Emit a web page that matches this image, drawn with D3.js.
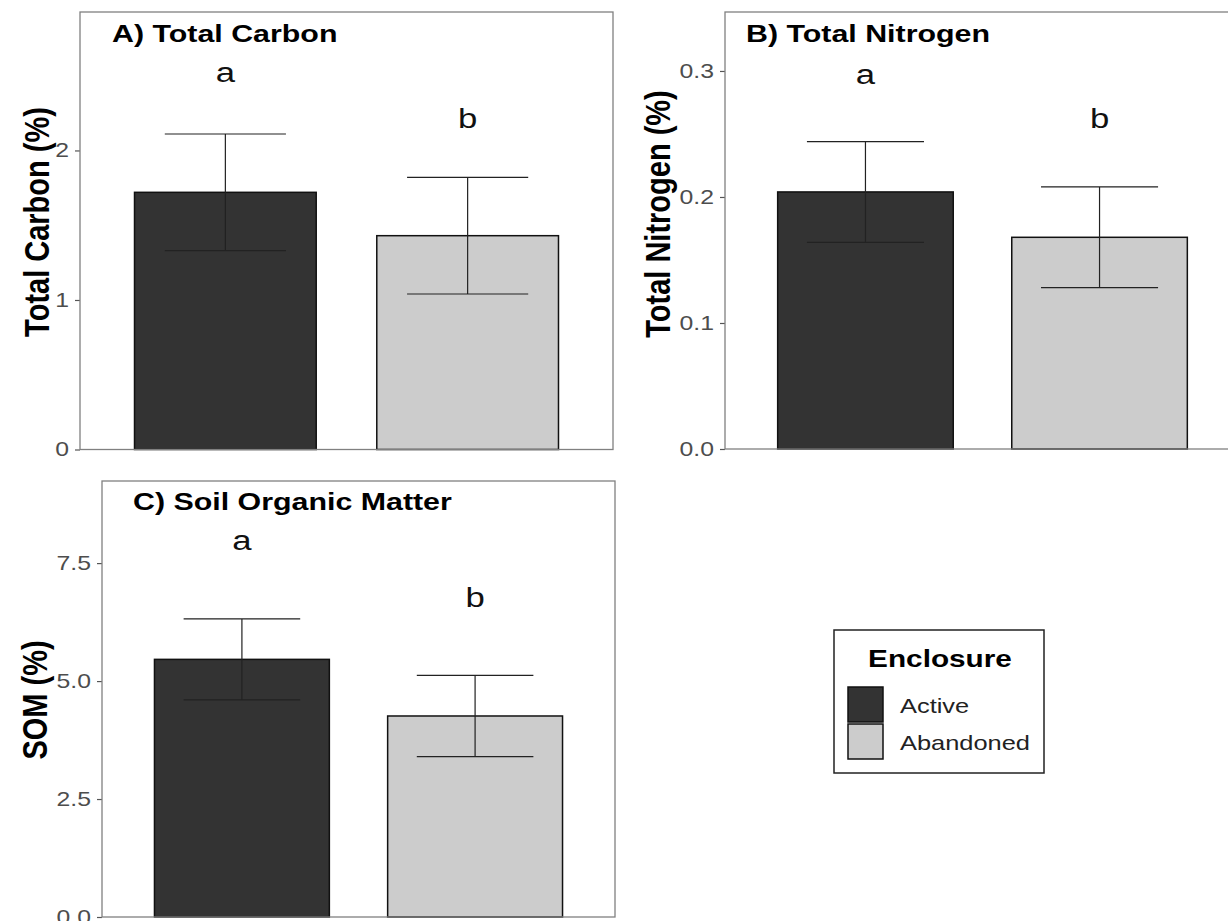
<!DOCTYPE html>
<html lang="en">
  <head>
    <meta charset="UTF-8">
    <title>Soil carbon, nitrogen and SOM by enclosure</title>
    <style>
    * {
      box-sizing: border-box;
      margin: 0;
      padding: 0;
    }

    body {
      background: #fff;
      font-family: "Liberation Sans", Arial, sans-serif;
    }

    svg {
      display: block;
    }

    .frame {
      fill: none;
      stroke: #808080;
      stroke-width: 1.3px;
    }

    .tick line {
      stroke: #555;
      stroke-width: 1.2px;
    }

    .tick text {
      fill: #4d4d4d;
      font-size: 20px;
    }

    .bar {
      stroke: #111;
      stroke-width: 1.5px;
    }

    .err {
      stroke: #222;
      stroke-width: 1.2px;
      fill: none;
    }

    .letter {
      font-size: 28px;
      fill: #111;
      text-anchor: middle;
    }

    .ptitle {
      font-weight: bold;
      font-size: 24.5px;
      fill: #000;
    }

    .ytitle {
      font-weight: bold;
      font-size: 29px;
      fill: #000;
    }
    </style>
  </head>
  <body>
    <svg width="1228" height="921"></svg>
    <script src="https://d3js.org/d3.v7.min.js"></script>
    <script>
      const groups = ["Active", "Abandoned"];
      const fills = ["#333333", "#cccccc"];
      const letters = ["a", "b"];

      const carbonMean = [1.72, 1.43];
      const carbonSE = [0.39, 0.39];
      const carbonLetterY = [2.46, 2.15];
      const carbonTicks = [0, 1, 2];

      const nitrogenMean = [0.204, 0.168];
      const nitrogenSE = [0.040, 0.040];
      const nitrogenLetterY = [0.290, 0.255];
      const nitrogenTicks = [0.0, 0.1, 0.2, 0.3];

      const somMean = [5.46, 4.26];
      const somSE = [0.86, 0.86];
      const somLetterY = [7.78, 6.57];
      const somTicks = [0.0, 2.5, 5.0, 7.5];

      // the source figure is a bit wider than tall, so glyphs are stretched sideways
      const SX = 1.24;

      const svg = d3.select("svg");

      function place(sel, x, y, extra) {
        sel.attr("transform", `translate(${x},${y}) scale(${SX},1)${extra || ""}`);
      }

      function drawPanel(p) {
        const g = svg.append("g");

        const x = d3.scaleBand()
          .domain(groups)
          .range([p.left, p.right])
          .paddingInner(0.25)
          .paddingOuter(0.225);

        const y = d3.scaleLinear()
          .domain([0, p.yMax])
          .range([p.bottom, p.top]);

        const rows = groups.map((k, i) => ({
          key: k, mean: p.mean[i], se: p.se[i], letter: letters[i], ly: p.letterY[i], fill: fills[i]
        }));

        // axis
        const axis = d3.axisLeft(y)
          .tickValues(p.ticks)
          .tickSize(5)
          .tickPadding(6)
          .tickFormat(p.format);
        g.append("g")
          .attr("transform", `translate(${p.left},0)`)
          .call(axis)
          .call(a => a.select(".domain").remove())
          .call(a => a.selectAll(".tick text")
            .attr("font-family", null).attr("font-size", null)
            .attr("x", -11 / SX)
            .attr("transform", `scale(${SX},1)`));

        g.selectAll(".bar")
          .data(rows)
          .enter().append("rect")
          .attr("class", "bar")
          .attr("x", d => x(d.key))
          .attr("width", x.bandwidth())
          .attr("y", d => y(d.mean))
          .attr("height", d => y(0) - y(d.mean))
          .attr("fill", d => d.fill);

        const cap = x.bandwidth() * 0.5 / 0.75 / 2;
        g.selectAll(".err")
          .data(rows)
          .enter().append("path")
          .attr("class", "err")
          .attr("d", d => {
            const cx = x(d.key) + x.bandwidth() / 2;
            const y1 = y(d.mean + d.se), y0 = y(d.mean - d.se);
            return `M${cx - cap},${y1}H${cx + cap}M${cx},${y1}V${y0}M${cx - cap},${y0}H${cx + cap}`;
          });

        g.selectAll(".letter")
          .data(rows)
          .enter().append("text")
          .attr("class", "letter")
          .attr("transform", d => `translate(${x(d.key) + x.bandwidth() / 2},${y(d.ly)}) scale(${SX},1)`)
          .text(d => d.letter);

        g.append("rect")
          .attr("class", "frame")
          .attr("x", p.left)
          .attr("y", p.top)
          .attr("width", p.right - p.left)
          .attr("height", p.bottom - p.top);

        g.append("text")
          .attr("class", "ptitle")
          .call(place, p.titleX, p.titleY)
          .text(p.title);

        g.append("text")
          .attr("class", "ytitle")
          .attr("text-anchor", "middle")
          .call(place, p.yTitleX, p.yTitleY, " rotate(-90)")
          .text(p.yTitle);
      }

      drawPanel({
        left: 80, right: 613, top: 12, bottom: 449.5, yMax: 2.926,
        mean: carbonMean, se: carbonSE, letterY: carbonLetterY,
        ticks: carbonTicks, format: d3.format("d"),
        title: "A) Total Carbon", titleX: 112, titleY: 42,
        yTitle: "Total Carbon (%)", yTitleX: 49, yTitleY: 222
      });

      drawPanel({
        left: 725, right: 1240, top: 12, bottom: 449, yMax: 0.3468,
        mean: nitrogenMean, se: nitrogenSE, letterY: nitrogenLetterY,
        ticks: nitrogenTicks, format: d3.format(".1f"),
        title: "B) Total Nitrogen", titleX: 746, titleY: 42,
        yTitle: "Total Nitrogen (%)", yTitleX: 670, yTitleY: 214
      });

      drawPanel({
        left: 102, right: 615, top: 481, bottom: 917, yMax: 9.24,
        mean: somMean, se: somSE, letterY: somLetterY,
        ticks: somTicks, format: d3.format(".1f"),
        title: "C) Soil Organic Matter", titleX: 133, titleY: 510,
        yTitle: "SOM (%)", yTitleX: 47, yTitleY: 700
      });

      // legend
      const lg = svg.append("g").attr("transform", "translate(834,630)");
      lg.append("rect")
        .attr("width", 210).attr("height", 143)
        .attr("fill", "#fff").attr("stroke", "#222").attr("stroke-width", 1.5);
      lg.append("text")
        .attr("text-anchor", "middle")
        .attr("font-weight", "bold").attr("font-size", 24)
        .call(place, 106, 37)
        .text("Enclosure");
      const items = lg.selectAll(".item")
        .data(groups)
        .enter().append("g")
        .attr("transform", (d, i) => `translate(14,${57 + i * 37})`);
      items.append("rect")
        .attr("width", 35).attr("height", 35)
        .attr("fill", (d, i) => fills[i])
        .attr("stroke", "#111").attr("stroke-width", 1.5);
      items.append("text")
        .attr("font-size", 20.5).attr("fill", "#222")
        .call(place, 52, 26)
        .text(d => d);
    </script>
  </body>
</html>
